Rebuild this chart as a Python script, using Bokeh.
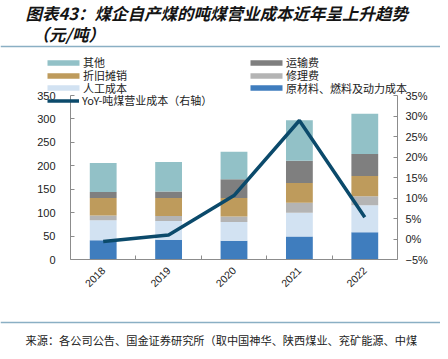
import math
from bokeh.plotting import figure
from bokeh.models import (Range1d, LinearAxis, FixedTicker, Legend, LegendItem,
                          Label, BoxAnnotation, ColumnDataSource)
from bokeh.embed import file_html
from bokeh.resources import INLINE

years = ["2018", "2019", "2020", "2021", "2022"]
raw_material = [41, 42, 40, 49, 58]     # 原材料、燃料及动力成本
labor = [43, 40, 40, 51, 58]            # 人工成本
repair = [10, 11, 12, 21, 19]           # 修理费
depreciation = [37, 38, 39, 42, 43]     # 折旧摊销
transport = [13, 14, 40, 48, 47]        # 运输费
other = [62, 63, 59, 86, 86]            # 其他
yoy = [-0.6, 1.0, 10.6, 28.9, 5.3]      # YoY (%)

left_ticks = [0, 50, 100, 150, 200, 250, 300, 350]
right_ticks = [-5, 0, 5, 10, 15, 20, 25, 30, 35]
right_labels = ["−5%", "0%", "5%", "10%", "15%", "20%", "25%", "30%", "35%"]

series_keys = ["raw", "labor", "repair", "depr", "trans", "other"]
colors = ["#3F7DBE", "#D2E2F2", "#B4B4B4", "#BE9B5C", "#7F7F7F", "#92C1C7"]
line_color = "#0B4A6B"

xs = list(range(1, len(years) + 1))
src = ColumnDataSource(dict(x=xs, raw=raw_material, labor=labor, repair=repair,
                            depr=depreciation, trans=transport, other=other, yoy=yoy))

CJK = "Noto Sans CJK SC"
LAT = "Liberation Sans"

# geometry (pixels): figure size and where the plotting area sits
W, H = 440, 351
FL, FR, FT, FB = 70, 397, 95, 259
x_lo, x_hi = 0.5, 5.5
yl_lo, yl_hi = left_ticks[0], left_ticks[-1]
yr_lo, yr_hi = right_ticks[0], right_ticks[-1]
sx = (x_hi - x_lo) / (FR - FL)
sy = (yl_hi - yl_lo) / (FB - FT)
sr = (yr_hi - yr_lo) / (FB - FT)

p = figure(width=W, height=H, output_backend="svg", toolbar_location=None,
           x_range=Range1d(x_lo - FL * sx, x_hi + (W - FR) * sx),
           y_range=Range1d(yl_lo - (H - FB) * sy, yl_hi + FT * sy),
           min_border_left=0, min_border_right=0, min_border_top=0,
           min_border_bottom=0, outline_line_color=None)
p.title.visible = False
p.xgrid.visible = False
p.ygrid.visible = False
p.extra_y_ranges = {"yoy": Range1d(yr_lo - (H - FB) * sr, yr_hi + FT * sr)}

bars = p.vbar_stack(series_keys, x="x", width=0.41, color=colors, source=src,
                    line_color=None)
ln = p.line(x="x", y="yoy", source=src, y_range_name="yoy", line_color=line_color,
            line_width=3.5)

axis_color = "#8C8C8C"
# x axis
xa = p.xaxis[0]
xa.fixed_location = yl_lo
xa.bounds = (x_lo, x_hi)
xa.ticker = FixedTicker(ticks=xs, minor_ticks=[1.5, 2.5, 3.5, 4.5])
xa.major_label_overrides = {x: y for x, y in zip(xs, years)}
xa.major_tick_line_color = None
xa.minor_tick_in = 4
xa.minor_tick_out = 0
xa.minor_tick_line_color = axis_color
xa.axis_line_color = axis_color
xa.major_label_orientation = math.pi / 4
xa.major_label_text_font = LAT
xa.major_label_text_font_size = "10.5px"
xa.major_label_text_color = "#222222"
xa.major_label_standoff = 3

# left axis
ya = p.yaxis[0]
ya.fixed_location = x_lo
ya.bounds = (yl_lo, yl_hi)
ya.ticker = FixedTicker(ticks=left_ticks)
ya.major_tick_in = 4
ya.major_tick_out = 0
ya.minor_tick_line_color = None
ya.major_tick_line_color = axis_color
ya.axis_line_color = axis_color
ya.major_label_text_font = LAT
ya.major_label_text_font_size = "11px"
ya.major_label_text_color = "#222222"
ya.major_label_standoff = 15

# right axis
ra = LinearAxis(y_range_name="yoy", ticker=FixedTicker(ticks=right_ticks),
                major_label_overrides={t: l for t, l in zip(right_ticks, right_labels)})
ra.fixed_location = x_hi
ra.bounds = (yr_lo, yr_hi)
ra.major_tick_in = 4
ra.major_tick_out = 0
ra.minor_tick_line_color = None
ra.major_tick_line_color = axis_color
ra.axis_line_color = axis_color
ra.major_label_text_font = LAT
ra.major_label_text_font_size = "11px"
ra.major_label_text_color = "#222222"
ra.major_label_standoff = 8
p.add_layout(ra, "right")

# legend: two columns, one single-row legend per entry
ITEM_H = 16
def add_entry(label, renderer, left_px, center_px, gw=40, standoff=0):
    lg = Legend(items=[LegendItem(label=label, renderers=[renderer])],
                location=(left_px, H - (center_px + ITEM_H / 2)),
                orientation="vertical", glyph_width=gw, glyph_height=7,
                label_height=12, spacing=0, padding=0, margin=0,
                label_standoff=standoff,
                border_line_color=None, background_fill_alpha=0,
                label_text_font=CJK, label_text_font_size="11px",
                label_text_color="#222222")
    p.add_layout(lg)

row_c = [62.3, 75.0, 87.7, 100.3]
add_entry("其他", bars[5], 43, row_c[0])
add_entry("折旧摊销", bars[3], 43, row_c[1])
add_entry("人工成本", bars[1], 43, row_c[2])
add_entry("YoY-吨煤营业成本（右轴）", ln, 47, row_c[3], gw=32, standoff=3)
add_entry("运输费", bars[4], 246, row_c[0])
add_entry("修理费", bars[2], 246, row_c[1])
add_entry("原材料、燃料及动力成本", bars[0], 246, row_c[2])

# titles and source (screen units from bottom-left)
p.add_layout(Label(x=25, y=H - 12, x_units="screen", y_units="screen",
                   text="图表43：煤企自产煤的吨煤营业成本近年呈上升趋势",
                   text_font=CJK, text_font_size="16.5px", text_font_style="bold italic",
                   text_color="#141414", text_baseline="middle"))
p.add_layout(Label(x=32, y=H - 33, x_units="screen", y_units="screen",
                   text="（元/吨）",
                   text_font=CJK, text_font_size="16.5px", text_font_style="bold italic",
                   text_color="#141414", text_baseline="middle"))
p.add_layout(Label(x=25, y=H - 339.5, x_units="screen", y_units="screen",
                   text="来源：各公司公告、国金证券研究所（取中国神华、陕西煤业、兖矿能源、中煤",
                   text_font=CJK, text_font_size="11.2px",
                   text_color="#222222", text_baseline="middle"))

sep_color = "#8AAFC4"
for yy in (H - 46, H - 322):
    p.add_layout(BoxAnnotation(left=0, right=W, bottom=yy - 0.7, top=yy + 0.7,
                               left_units="screen", right_units="screen",
                               bottom_units="screen", top_units="screen",
                               fill_color=sep_color, fill_alpha=1, line_color=None))

open("out.html", "w").write(file_html(p, INLINE))
